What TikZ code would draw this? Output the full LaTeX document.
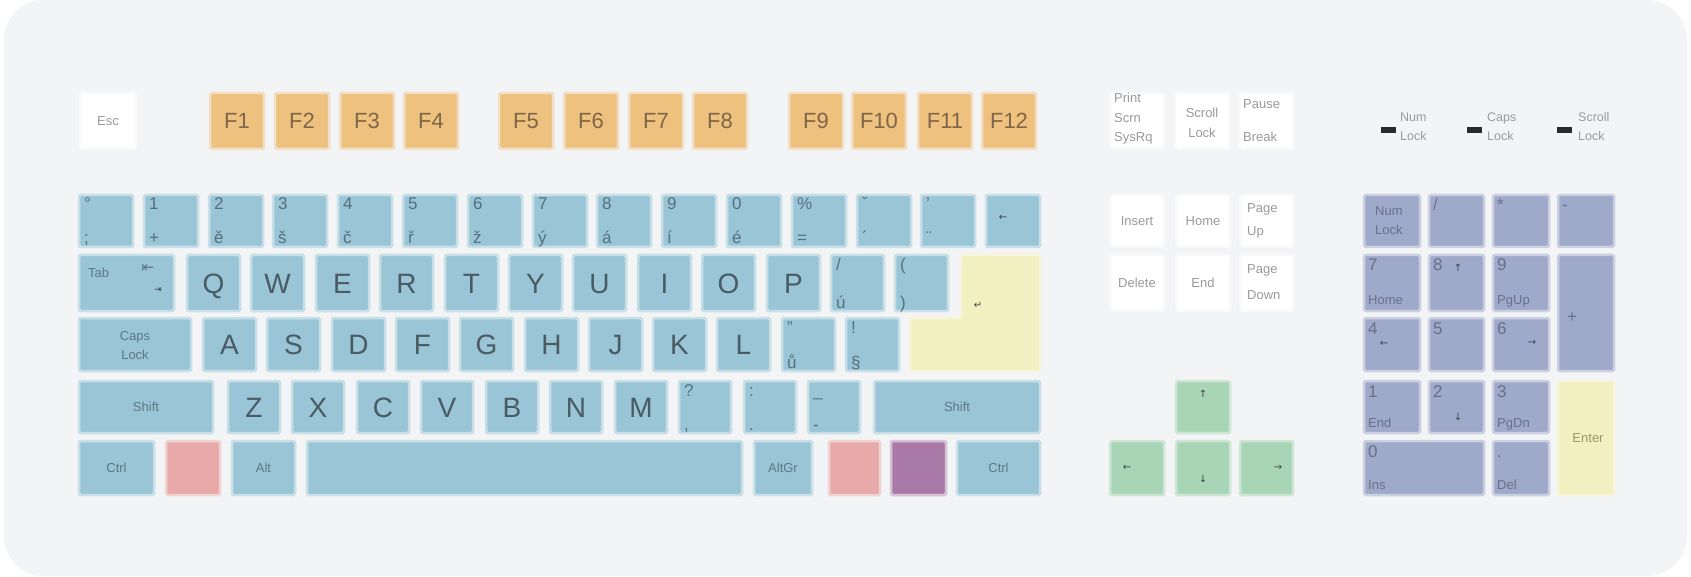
\documentclass[tikz,border=0pt]{standalone}
\usepackage{fontspec}
\setmainfont{Liberation Sans}
\newfontfamily\symf{DejaVu Sans}
\usetikzlibrary{calc}
\definecolor{bgc}{HTML}{F3F4F6}
\definecolor{kblue}{HTML}{99C5D6}
\definecolor{kblueL}{HTML}{C9DFE7}
\definecolor{korange}{HTML}{EEC17E}
\definecolor{korangeL}{HTML}{F2E0C6}
\definecolor{kyel}{HTML}{F2F0C1}
\definecolor{kyelL}{HTML}{F6F4DA}
\definecolor{kred}{HTML}{E8AAA8}
\definecolor{kredL}{HTML}{F0D3D2}
\definecolor{kpurp}{HTML}{A97AA7}
\definecolor{kpurpL}{HTML}{D8C2D6}
\definecolor{kgreen}{HTML}{A8D5B5}
\definecolor{kgreenL}{HTML}{CFE5D5}
\definecolor{knum}{HTML}{9FA9CA}
\definecolor{knumL}{HTML}{CBD0E0}
\definecolor{kwhiteL}{HTML}{F9F9FA}
\definecolor{kltr}{HTML}{4A5B64}
\definecolor{ktl}{HTML}{55707D}
\definecolor{kstxt}{HTML}{5E7784}
\definecolor{kotxt}{HTML}{7E664A}
\definecolor{kwtxt}{HTML}{9A9A9A}
\definecolor{knt}{HTML}{6A7088}
\definecolor{kytxt}{HTML}{9A9670}
\definecolor{kdark}{HTML}{3E454C}
\definecolor{kled}{HTML}{2A2A2A}
\newcommand\kbkey[7]{\node[kb,#6,minimum width={(#4)-(#2)},minimum height={(#5)-(#3)}] (#1) at (#2,#3) {#7};}
\newcommand\kbtb[3]{\node[tl] (#1-t) at (#1.north west) {#2};\node[bl] (#1-b) at (#1.south west) {#3};}
\newcommand\kbnt[3]{\node[ntl] (#1-t) at (#1.north west) {#2};\node[nbl] (#1-b) at (#1.south west) {#3};}
\tikzset{
 kb/.style={rectangle, anchor=north west, inner sep=0pt, outer sep=0pt, line width=2.5pt, rounded corners=1.5pt},
 bk/.style={fill=kblue, draw=kblueL},
 ok/.style={fill=korange, draw=korangeL, text=kotxt, font=\fontsize{22}{22}\selectfont, text height=15.8pt, text depth=0pt},
 wk/.style={fill=white, draw=kwhiteL},
 gk/.style={fill=kgreen, draw=kgreenL},
 nk/.style={fill=knum, draw=knumL},
 rk/.style={fill=kred, draw=kredL},
 pk/.style={fill=kpurp, draw=kpurpL},
 yk/.style={fill=kyel, draw=kyelL},
 big/.style={font=\fontsize{28}{28}\selectfont, text=kltr, text height=20pt, text depth=0pt},
 sml/.style={font=\fontsize{13}{13}\selectfont, text=kstxt, text height=9.3pt, text depth=0pt},
 wlab/.style={font=\fontsize{13}{13}\selectfont, text=kwtxt, inner sep=0pt, text height=9.3pt, text depth=0pt},
 wbase/.style={font=\fontsize{13}{13}\selectfont, text=kwtxt, inner sep=0pt, anchor=base west},
 sbase/.style={font=\fontsize{13}{13}\selectfont, text=kstxt, inner sep=0pt, anchor=base west},
 nbase/.style={font=\fontsize{13}{13}\selectfont, text=knt, inner sep=0pt, anchor=base west},
 ledt/.style={font=\fontsize{12.5}{12.5}\selectfont, text=kwtxt, inner sep=0pt, anchor=base west},
 arr/.style={font=\symf\fontsize{10}{10}\selectfont, text=kdark, inner sep=0pt},
 tl/.style={anchor=base west, inner sep=0pt, xshift=5pt, yshift=-15pt, font=\fontsize{17}{17}\selectfont, text=ktl},
 bl/.style={anchor=base west, inner sep=0pt, xshift=5pt, yshift=3pt, font=\fontsize{17}{17}\selectfont, text=ktl},
 ntl/.style={anchor=base west, inner sep=0pt, xshift=4pt, yshift=-16pt, font=\fontsize{17}{17}\selectfont, text=knt},
 nbl/.style={anchor=base west, inner sep=0pt, xshift=4pt, yshift=6pt, font=\fontsize{13}{13}\selectfont, text=knt},
}
\begin{document}
\begin{tikzpicture}[x=1pt,y=-1pt]
\useasboundingbox (0,0) rectangle (1691,577);
\fill[white] (0,0) rectangle (1691,577);
\fill[bgc, rounded corners=40pt] (4,0) rectangle (1687,576);
% ---- function row
\kbkey{kesc}{80}{93}{136}{149}{wk,wlab}{Esc}
\kbkey{kF1}{210}{93}{264}{149}{ok}{F1}
\kbkey{kF2}{275}{93}{329}{149}{ok}{F2}
\kbkey{kF3}{340}{93}{394}{149}{ok}{F3}
\kbkey{kF4}{404}{93}{458}{149}{ok}{F4}
\kbkey{kF5}{499}{93}{553}{149}{ok}{F5}
\kbkey{kF6}{564}{93}{618}{149}{ok}{F6}
\kbkey{kF7}{629}{93}{683}{149}{ok}{F7}
\kbkey{kF8}{693}{93}{747}{149}{ok}{F8}
\kbkey{kF9}{789}{93}{843}{149}{ok}{F9}
\kbkey{kF10}{852}{93}{906}{149}{ok}{F10}
\kbkey{kF11}{918}{93}{972}{149}{ok}{F11}
\kbkey{kF12}{982}{93}{1036}{149}{ok}{F12}
% ---- row 1
\kbkey{kgr}{79}{195}{133}{247}{bk}{}\kbtb{kgr}{°}{;}
\kbkey{k1}{144}{195}{198}{247}{bk}{}\kbtb{k1}{1}{+}
\kbkey{k2}{209}{195}{263}{247}{bk}{}\kbtb{k2}{2}{ě}
\kbkey{k3}{273}{195}{327}{247}{bk}{}\kbtb{k3}{3}{š}
\kbkey{k4}{338}{195}{392}{247}{bk}{}\kbtb{k4}{4}{č}
\kbkey{k5}{403}{195}{457}{247}{bk}{}\kbtb{k5}{5}{ř}
\kbkey{k6}{468}{195}{522}{247}{bk}{}\kbtb{k6}{6}{ž}
\kbkey{k7}{533}{195}{587}{247}{bk}{}\kbtb{k7}{7}{ý}
\kbkey{k8}{597}{195}{651}{247}{bk}{}\kbtb{k8}{8}{á}
\kbkey{k9}{662}{195}{716}{247}{bk}{}\kbtb{k9}{9}{í}
\kbkey{k0}{727}{195}{781}{247}{bk}{}\kbtb{k0}{0}{é}
\kbkey{kpct}{792}{195}{846}{247}{bk}{}\kbtb{kpct}{\%}{=}
\kbkey{kcar}{857}{195}{911}{247}{bk}{}\kbtb{kcar}{ˇ}{´}
\kbkey{kuml}{921}{195}{975}{247}{bk}{}\kbtb{kuml}{'}{¨}
\kbkey{kbs}{986}{195}{1040}{247}{bk}{}
\node[arr] (kbs-l) at (1003,218) {←};
% ---- row 2
\kbkey{ktab}{79}{255}{174}{311}{bk}{}
\node[sbase] (ktab-l) at (88,277) {Tab};
\node[font=\symf\fontsize{15}{15}\selectfont, text=kstxt, inner sep=0pt] (ktab-a) at (148,269) {⇤};
\node[font=\symf\fontsize{9}{9}\selectfont, text=kdark, inner sep=0pt] (ktab-b) at (158,290) {⇥};
\kbkey{kQ}{187}{255}{240}{311}{bk,big}{Q}
\kbkey{kW}{251}{255}{304}{311}{bk,big}{W}
\kbkey{kE}{316}{255}{369}{311}{bk,big}{E}
\kbkey{kR}{380}{255}{433}{311}{bk,big}{R}
\kbkey{kT}{445}{255}{498}{311}{bk,big}{T}
\kbkey{kY}{509}{255}{562}{311}{bk,big}{Y}
\kbkey{kU}{573}{255}{626}{311}{bk,big}{U}
\kbkey{kI}{638}{255}{691}{311}{bk,big}{I}
\kbkey{kO}{702}{255}{755}{311}{bk,big}{O}
\kbkey{kP}{767}{255}{820}{311}{bk,big}{P}
\kbkey{kuac}{831}{255}{884}{311}{bk}{}\kbtb{kuac}{/}{ú}
\kbkey{kpar}{895}{255}{948}{311}{bk}{}\kbtb{kpar}{(}{)}
\draw[fill=kyel, draw=kyelL, line width=2.5pt, rounded corners=1.5pt] (961,255) -- (1040,255) -- (1040,371) -- (910,371) -- (910,318) -- (961,318) -- cycle;
\node[arr] (kent-l) at (978,305) {↵};
% ---- row 3
\kbkey{kcaps}{79}{318}{191}{371}{bk}{}
\node[sml, inner sep=0pt] (kcaps-a) at ($(kcaps.center)+(0,-9)$) {Caps};
\node[sml, inner sep=0pt] (kcaps-b) at ($(kcaps.center)+(0,10)$) {Lock};
\kbkey{kA}{203}{318}{256}{371}{bk,big}{A}
\kbkey{kS}{267}{318}{320}{371}{bk,big}{S}
\kbkey{kD}{332}{318}{385}{371}{bk,big}{D}
\kbkey{kF}{396}{318}{449}{371}{bk,big}{F}
\kbkey{kG}{460}{318}{513}{371}{bk,big}{G}
\kbkey{kH}{525}{318}{578}{371}{bk,big}{H}
\kbkey{kJ}{589}{318}{642}{371}{bk,big}{J}
\kbkey{kK}{653}{318}{706}{371}{bk,big}{K}
\kbkey{kL}{717}{318}{770}{371}{bk,big}{L}
\kbkey{kur}{782}{318}{835}{371}{bk}{}\kbtb{kur}{"}{ů}
\kbkey{kpara}{846}{318}{899}{371}{bk}{}\kbtb{kpara}{!}{§}
% ---- row 4
\kbkey{klsh}{79}{381}{213}{433}{bk,sml}{Shift}
\kbkey{kZ}{228}{381}{280}{433}{bk,big}{Z}
\kbkey{kX}{292}{381}{344}{433}{bk,big}{X}
\kbkey{kC}{357}{381}{409}{433}{bk,big}{C}
\kbkey{kV}{421}{381}{473}{433}{bk,big}{V}
\kbkey{kB}{486}{381}{538}{433}{bk,big}{B}
\kbkey{kN}{550}{381}{602}{433}{bk,big}{N}
\kbkey{kM}{615}{381}{667}{433}{bk,big}{M}
\kbkey{kcom}{679}{381}{731}{433}{bk}{}\kbtb{kcom}{?}{,}
\kbkey{kdot}{744}{381}{796}{433}{bk}{}\kbtb{kdot}{:}{.}
\kbkey{kmin}{808}{381}{860}{433}{bk}{}\kbtb{kmin}{\_}{-}
\kbkey{krsh}{874}{381}{1040}{433}{bk,sml}{Shift}
% ---- row 5
\kbkey{klctrl}{79}{441}{154}{495}{bk,sml}{Ctrl}
\kbkey{klwin}{166}{441}{220}{495}{rk}{}
\kbkey{klalt}{232}{441}{295}{495}{bk,sml}{Alt}
\kbkey{kspace}{307}{441}{742}{495}{bk}{}
\kbkey{kaltgr}{754}{441}{812}{495}{bk,sml}{AltGr}
\kbkey{krwin}{829}{441}{880}{495}{rk}{}
\kbkey{kmenu}{891}{441}{946}{495}{pk}{}
\kbkey{krctrl}{957}{441}{1040}{495}{bk,sml}{Ctrl}
% ---- navigation block
\kbkey{kprt}{1110}{93}{1164}{149}{wk}{}
\node[wbase] (kprt-a) at (1114,103) {Print};
\node[wbase] (kprt-b) at (1114,123) {Scrn};
\node[wbase] (kprt-c) at (1114,142) {SysRq};
\kbkey{kscr}{1175}{93}{1229}{149}{wk}{}
\node[wlab] (kscr-a) at ($(kscr.center)+(0,-8)$) {Scroll};
\node[wlab] (kscr-b) at ($(kscr.center)+(0,12)$) {Lock};
\kbkey{kpau}{1239}{93}{1293}{149}{wk}{}
\node[wbase] (kpau-a) at (1243,109) {Pause};
\node[wbase] (kpau-b) at (1243,142) {Break};
\kbkey{kins}{1110}{195}{1164}{247}{wk,wlab}{Insert}
\kbkey{khome}{1176}{195}{1230}{247}{wk,wlab}{Home}
\kbkey{kpgup}{1240}{195}{1293}{247}{wk}{}
\node[wbase] (kpgup-a) at (1247,213) {Page};
\node[wbase] (kpgup-b) at (1247,236) {Up};
\kbkey{kdel}{1110}{255}{1164}{311}{wk,wlab}{Delete}
\kbkey{kend}{1176}{255}{1230}{311}{wk,wlab}{End}
\kbkey{kpgdn}{1240}{255}{1293}{311}{wk}{}
\node[wbase] (kpgdn-a) at (1247,273) {Page};
\node[wbase] (kpgdn-b) at (1247,299) {Down};
% ---- arrows
\kbkey{kup}{1176}{381}{1230}{433}{gk}{}
\node[arr] (kup-l) at (1203,394) {↑};
\kbkey{kleft}{1110}{441}{1164}{495}{gk}{}
\node[arr] (kleft-l) at (1127,468) {←};
\kbkey{kdown}{1176}{441}{1230}{495}{gk}{}
\node[arr] (kdown-l) at (1203,479) {↓};
\kbkey{kright}{1240}{441}{1293}{495}{gk}{}
\node[arr] (kright-l) at (1278,468) {→};
% ---- LEDs
\fill[kled] (1381,127) rectangle (1396,133);
\node[ledt] (led1a) at (1400,122) {Num};
\node[ledt] (led1b) at (1400,141) {Lock};
\fill[kled] (1467,127) rectangle (1482,133);
\node[ledt] (led2a) at (1487,122) {Caps};
\node[ledt] (led2b) at (1487,141) {Lock};
\fill[kled] (1557,127) rectangle (1572,133);
\node[ledt] (led3a) at (1578,122) {Scroll};
\node[ledt] (led3b) at (1578,141) {Lock};
% ---- numpad
\kbkey{nnum}{1364}{195}{1420}{247}{nk}{}
\node[nbase] (nnum-a) at (1375,216) {Num};
\node[nbase] (nnum-b) at (1375,235) {Lock};
\kbkey{ndiv}{1429}{195}{1484}{247}{nk}{}\kbnt{ndiv}{/}{}
\kbkey{nmul}{1493}{195}{1549}{247}{nk}{}\kbnt{nmul}{*}{}
\kbkey{nsub}{1558}{195}{1614}{247}{nk}{}\kbnt{nsub}{-}{}
\kbkey{n7}{1364}{255}{1420}{311}{nk}{}\kbnt{n7}{7}{Home}
\kbkey{n8}{1429}{255}{1484}{311}{nk}{}\kbnt{n8}{8}{}
\node[arr] (n8-a) at (1458,268) {↑};
\kbkey{n9}{1493}{255}{1549}{311}{nk}{}\kbnt{n9}{9}{PgUp}
\kbkey{nplus}{1558}{255}{1614}{371}{nk}{}
\node[font=\fontsize{17}{17}\selectfont, text=knt, inner sep=0pt] (nplus-l) at (1572,318) {+};
\kbkey{n4}{1364}{318}{1420}{371}{nk}{}\kbnt{n4}{4}{}
\node[arr] (n4-a) at (1384,344) {←};
\kbkey{n5}{1429}{318}{1484}{371}{nk}{}\kbnt{n5}{5}{}
\kbkey{n6}{1493}{318}{1549}{371}{nk}{}\kbnt{n6}{6}{}
\node[arr] (n6-a) at (1532,343) {→};
\kbkey{n1}{1364}{381}{1420}{433}{nk}{}\kbnt{n1}{1}{End}
\kbkey{n2}{1429}{381}{1484}{433}{nk}{}\kbnt{n2}{2}{}
\node[arr] (n2-a) at (1458,417) {↓};
\kbkey{n3}{1493}{381}{1549}{433}{nk}{}\kbnt{n3}{3}{PgDn}
\kbkey{nent}{1558}{381}{1614}{495}{yk}{}
\node[font=\fontsize{13}{13}\selectfont, text=kytxt, inner sep=0pt] (nent-l) at (1588,438) {Enter};
\kbkey{n0}{1364}{441}{1484}{495}{nk}{}\kbnt{n0}{0}{Ins}
\kbkey{ndel}{1493}{441}{1549}{495}{nk}{}\kbnt{ndel}{.}{Del}
\end{tikzpicture}
\end{document}
